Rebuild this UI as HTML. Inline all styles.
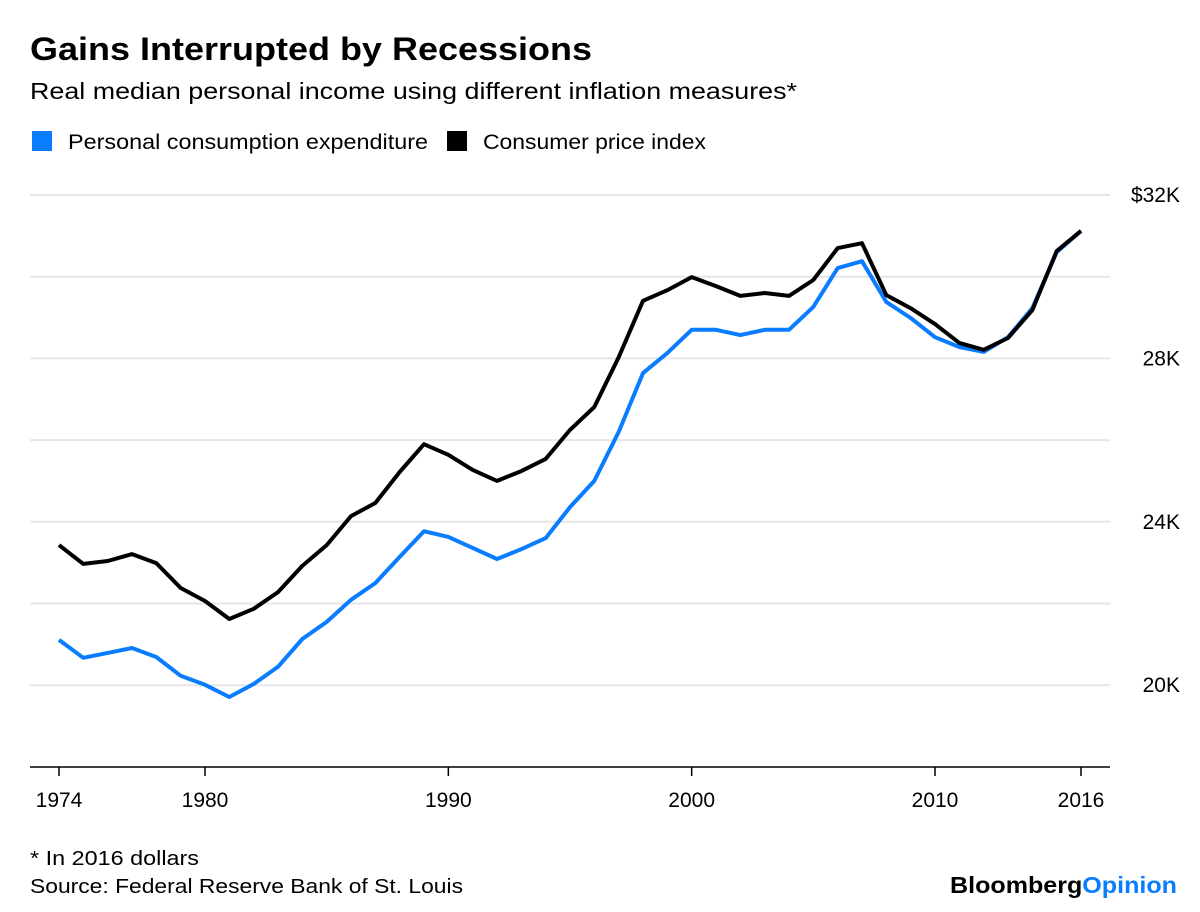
<!DOCTYPE html>
<html><head><meta charset="utf-8"><style>
body{margin:0;background:#fff;font-family:"Liberation Sans",sans-serif;}
#wrap{position:relative;width:1200px;height:912px;overflow:hidden;}
</style></head><body>
<div id="wrap">
<svg width="1200" height="912" id="svg">
<text x="30" y="60" font-size="32" font-weight="bold" fill="#000" textLength="562" lengthAdjust="spacingAndGlyphs">Gains Interrupted by Recessions</text>
<text x="30" y="99" font-size="23" fill="#000" textLength="767" lengthAdjust="spacingAndGlyphs">Real median personal income using different inflation measures*</text>
<rect x="32" y="131" width="20" height="20" fill="#0a7cff"/>
<text x="68" y="149" font-size="21" fill="#000" textLength="360" lengthAdjust="spacingAndGlyphs">Personal consumption expenditure</text>
<rect x="447" y="131" width="20" height="20" fill="#000"/>
<text x="483" y="149" font-size="21" fill="#000" textLength="223" lengthAdjust="spacingAndGlyphs">Consumer price index</text>
<g id="grid"></g><g id="xaxis"></g><g id="series"></g>
<text x="30" y="865" font-size="20" fill="#000" textLength="169" lengthAdjust="spacingAndGlyphs">* In 2016 dollars</text>
<text x="30" y="893" font-size="20" fill="#000" textLength="433" lengthAdjust="spacingAndGlyphs">Source: Federal Reserve Bank of St. Louis</text>
<text x="950" y="893" font-size="23" font-weight="bold" textLength="227" lengthAdjust="spacingAndGlyphs"><tspan fill="#000">Bloomberg</tspan><tspan fill="#0a7cff">Opinion</tspan></text>
</svg></div>
<script>
const years=[];for(let y=1974;y<=2016;y++)years.push(y);
const cpi=[23.43,22.97,23.04,23.21,22.99,22.38,22.06,21.62,21.87,22.28,22.92,23.43,24.14,24.46,25.22,25.90,25.64,25.27,25.0,25.24,25.54,26.25,26.81,28.03,29.41,29.67,29.99,29.77,29.53,29.60,29.53,29.92,30.70,30.82,29.55,29.23,28.84,28.38,28.21,28.50,29.18,30.63,31.12];
const pce=[21.11,20.67,20.79,20.91,20.69,20.23,20.01,19.71,20.03,20.45,21.13,21.55,22.09,22.50,23.14,23.77,23.63,23.36,23.09,23.33,23.60,24.36,25.0,26.20,27.64,28.13,28.70,28.70,28.57,28.70,28.70,29.26,30.21,30.38,29.38,28.99,28.52,28.28,28.16,28.52,29.23,30.60,31.12];
const yTicks=[20,22,24,26,28,30,32];
const yLabels={32:"$32K",28:"28K",24:"24K",20:"20K"};
const xTicks=[1974,1980,1990,2000,2010,2016];
const NS="http://www.w3.org/2000/svg";
const xs=y=>59+(y-1974)*(1081-59)/42;
const ys=v=>195+(32-v)*40.85;
function mk(t,a,p){const e=document.createElementNS(NS,t);for(const k in a)e.setAttribute(k,a[k]);p.appendChild(e);return e;}
const grid=document.getElementById('grid');
yTicks.forEach(v=>{
 const l=mk('line',{x1:30,x2:1110,y1:ys(v),y2:ys(v),stroke:'#e6e6e6','stroke-width':2},grid);
 
 
 if(yLabels[v]){const t=mk('text',{x:1180,y:ys(v)+7,'font-size':21,'text-anchor':'end',fill:'#000'},grid);t.textContent=yLabels[v];
 
 }
});
const xa=document.getElementById('xaxis');
const base=mk('line',{x1:30,x2:1110,y1:767,y2:767,stroke:'#000','stroke-width':1.5},xa);


xTicks.forEach(y=>{
 const tk=mk('line',{x1:xs(y),x2:xs(y),y1:767,y2:776,stroke:'#000','stroke-width':1.5},xa);
 
 
 const t=mk('text',{x:xs(y),y:807,'font-size':21,'text-anchor':'middle',fill:'#000'},xa);t.textContent=y;
 
 
});
const sg=document.getElementById('series');
function line(data,color,name){
 const d=data.map((v,i)=>(i?'L':'M')+xs(years[i]).toFixed(1)+','+ys(v).toFixed(1)).join('');
 const p=mk('path',{d:d,fill:'none',stroke:color,'stroke-width':4,'stroke-linejoin':'round'},sg);
 
 
}
line(pce,'#0a7cff','pce-line');
line(cpi,'#000','cpi-line');
</script>
</body></html>
